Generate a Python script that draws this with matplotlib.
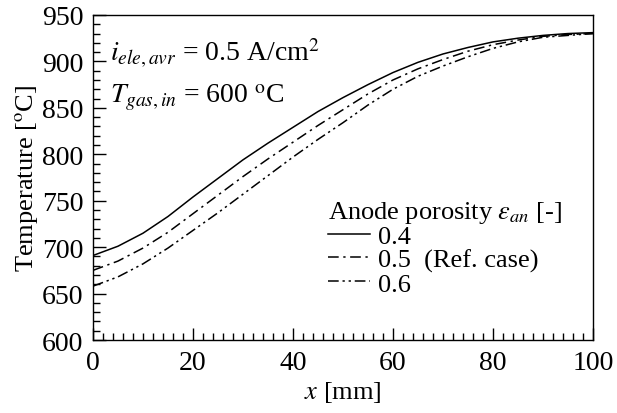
import matplotlib
matplotlib.use('Agg')
import matplotlib.pyplot as plt
from matplotlib.ticker import MultipleLocator

plt.rcParams['font.family'] = ['Liberation Serif', 'DejaVu Serif']
plt.rcParams['mathtext.fontset'] = 'stix'

# positions along channel [mm]
x_mm = [0, 5, 10, 15, 20, 25, 30, 35, 40, 45, 50,
        55, 60, 65, 70, 75, 80, 85, 90, 95, 100]

# temperature [C] for each anode porosity
T_04 = [691, 701, 715, 733, 754, 774, 794, 812, 829, 846, 861,
        875, 888, 899, 908, 915, 921, 925, 928, 930, 931]
T_05 = [675, 685, 699, 716, 736, 756, 776, 795, 813, 831, 848,
        865, 880, 892, 902, 911, 918, 923, 927, 929, 930]
T_06 = [658, 668, 682, 699, 718, 737, 757, 777, 797, 816, 834,
        853, 870, 884, 895, 905, 914, 921, 926, 928, 930]

labels = ['0.4', '0.5  (Ref. case)', '0.6']
styles = ['-', (0, (7, 3, 1.5, 3)), (0, (7, 2.5, 1.5, 2.5, 1.5, 2.5))]

fig = plt.figure(figsize=(6.17, 4.14), dpi=100)
ax = fig.add_axes([0.1507, 0.1763, 0.8103, 0.7851])

for T, lab, ls in zip([T_04, T_05, T_06], labels, styles):
    ax.plot(x_mm, T, color='black', linestyle=ls, linewidth=1.1, label=lab)

ax.set_xlim(0, 100)
ax.set_ylim(600, 950)
ax.xaxis.set_major_locator(MultipleLocator(20))
ax.xaxis.set_minor_locator(MultipleLocator(2))
ax.yaxis.set_major_locator(MultipleLocator(50))
ax.yaxis.set_minor_locator(MultipleLocator(10))
ax.tick_params(which='both', direction='in', top=False, right=False,
               labelsize=20, width=1.0)
ax.tick_params(axis='y', pad=7)
ax.tick_params(axis='x', pad=7)
ax.tick_params(which='major', length=9)
ax.tick_params(which='minor', length=5)
for sp in ax.spines.values():
    sp.set_linewidth(1.0)

ax.set_xlabel('$x$ [mm]', fontsize=19, labelpad=3)
ax.set_ylabel(r'Temperature [$^{\mathrm{o}}$C]', fontsize=19, labelpad=1)

ax.text(0.035, 0.86, r'$i_{ele,avr}$ = 0.5 A/cm$^2$', transform=ax.transAxes,
        fontsize=20)
ax.text(0.035, 0.73, r'$T_{gas,in}$ = 600 $^{\mathrm{o}}$C', transform=ax.transAxes,
        fontsize=20)

leg = ax.legend(loc='lower right', bbox_to_anchor=(0.975, 0.08), frameon=False,
                fontsize=19, title=r'Anode porosity $\varepsilon_{an}$ [-]',
                title_fontsize=19, handlelength=1.6, handletextpad=0.3,
                labelspacing=0.0, borderpad=0.2)
leg._legend_box.align = 'left'
leg._legend_box.sep = 0

fig.savefig('out.png', dpi=100)
